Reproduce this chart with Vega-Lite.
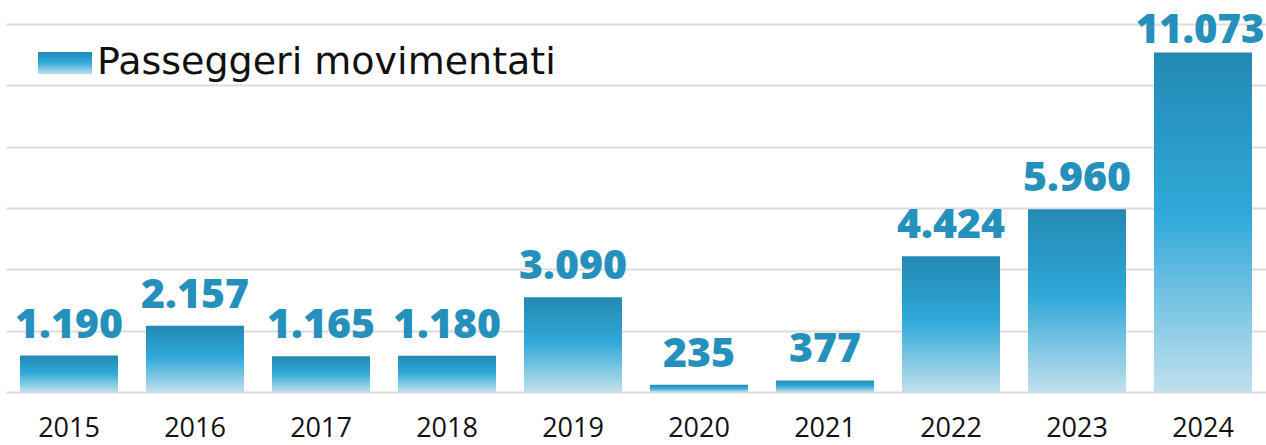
{
  "$schema": "https://vega.github.io/schema/vega-lite/v6.json",
  "width": 1260,
  "height": 368,
  "autosize": "none",
  "padding": {"left": 6, "top": 24, "right": 0, "bottom": 53},
  "background": "white",
  "config": {
    "view": {"stroke": null},
    "locale": {"number": {"decimal": ",", "thousands": ".", "grouping": [3], "currency": ["€", ""]}}
  },
  "data": {
    "values": [
      {"anno": "2015", "passeggeri": 1190},
      {"anno": "2016", "passeggeri": 2157},
      {"anno": "2017", "passeggeri": 1165},
      {"anno": "2018", "passeggeri": 1180},
      {"anno": "2019", "passeggeri": 3090},
      {"anno": "2020", "passeggeri": 235},
      {"anno": "2021", "passeggeri": 377},
      {"anno": "2022", "passeggeri": 4424},
      {"anno": "2023", "passeggeri": 5960},
      {"anno": "2024", "passeggeri": 11073}
    ]
  },
  "encoding": {
    "x": {
      "field": "anno", "type": "ordinal", "title": null,
      "scale": {"paddingInner": 0.222, "paddingOuter": 0.111},
      "axis": {"domain": false, "ticks": false, "labelAngle": 0, "labelFont": "Open Sans", "labelFontSize": 27, "labelColor": "#111111", "labelPadding": 23, "grid": false}
    },
    "y": {
      "field": "passeggeri", "type": "quantitative", "title": null,
      "scale": {"domain": [0, 12000], "nice": false},
      "axis": {"values": [0, 2000, 4000, 6000, 8000, 10000, 12000], "labels": false, "ticks": false, "domain": false, "grid": true, "gridColor": "#dcdcdc", "gridWidth": 2}
    }
  },
  "layer": [
    {
      "mark": {"type": "bar", "strokeWidth": 0, "fill": {"gradient": "linear", "x1": 0, "y1": 0, "x2": 0, "y2": 1, "stops": [{"offset": 0, "color": "#2389b3"}, {"offset": 0.47, "color": "#2fa8d8"}, {"offset": 1, "color": "#c0e0ed"}]}},
      "encoding": {
        "stroke": {
          "datum": "Passeggeri movimentati",
          "type": "nominal",
          "scale": {"range": ["#2fa8d8"]},
          "legend": {
            "title": null,
            "orient": "none",
            "legendX": 32,
            "legendY": 12,
            "padding": 0,
            "symbolType": "M-1,-0.41H1V0.41H-1Z",
            "symbolSize": 2916,
            "symbolStrokeWidth": 0,
            "symbolOpacity": 1,
            "labelFont": "DejaVu Sans",
            "labelFontSize": 38,
            "labelColor": "#111111",
            "labelOffset": 5,
            "labelLimit": 700,
            "encode": {
              "symbols": {
                "update": {
                  "fill": {"value": {"gradient": "linear", "x1": 0, "y1": 0, "x2": 0, "y2": 1, "stops": [{"offset": 0, "color": "#2389b3"}, {"offset": 0.47, "color": "#2fa8d8"}, {"offset": 1, "color": "#c0e0ed"}]}},
                  "strokeWidth": {"value": 0},
                  "opacity": {"value": 1}
                }
              }
            }
          }
        }
      }
    },
    {
      "transform": [{"filter": "datum.passeggeri < 10000"}],
      "mark": {"type": "text", "baseline": "alphabetic", "dy": -18, "font": "Open Sans", "fontWeight": 800, "fontSize": 41, "color": "#2590bb"},
      "encoding": {
        "text": {"field": "passeggeri", "type": "quantitative", "format": ",d"}
      }
    },
    {
      "transform": [{"filter": "datum.passeggeri >= 10000"}],
      "mark": {"type": "text", "baseline": "alphabetic", "dy": -9, "dx": -3, "font": "Open Sans", "fontWeight": 800, "fontSize": 40, "color": "#2590bb"},
      "encoding": {
        "text": {"field": "passeggeri", "type": "quantitative", "format": ",d"}
      }
    }
  ]
}
